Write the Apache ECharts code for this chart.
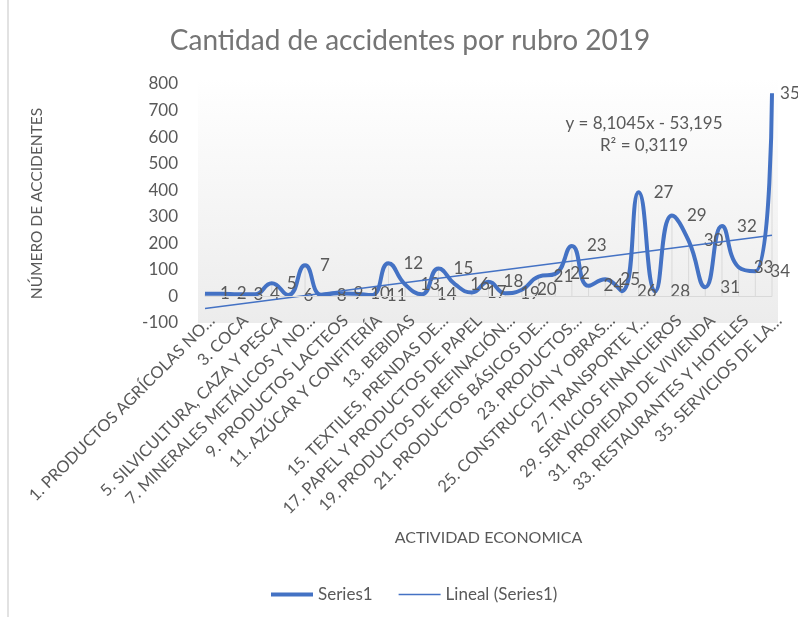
<!DOCTYPE html>
<html>
<head>
<meta charset="utf-8">
<script src="https://cdn.jsdelivr.net/npm/echarts@6/dist/echarts.min.js"></script>
<style>
  html, body { margin: 0; padding: 0; background: #fff; }
  #chart { width: 798px; height: 617px; }
</style>
</head>
<body>
<div id="chart"></div>
<script>
// --- datos ---
const categories = [
  '1. PRODUCTOS AGRÍCOLAS NO INDUSTRIALES', '2. PRODUCTOS AGRÍCOLAS INDUSTRIALES', '3. COCA',
  '4. PRODUCTOS PECUARIOS', '5. SILVICULTURA, CAZA Y PESCA', '6. PETRÓLEO CRUDO Y GAS NATURAL',
  '7. MINERALES METÁLICOS Y NO METÁLICOS', '8. CARNES FRESCAS Y ELABORADAS', '9. PRODUCTOS LACTEOS',
  '10. PRODUCTOS DE MOLINERÍA Y PANADERÍA', '11. AZÚCAR Y CONFITERÍA', '12. PRODUCTOS ALIMENTICIOS DIVERSOS',
  '13. BEBIDAS', '14. TABACO ELABORADO', '15. TEXTILES, PRENDAS DE VESTIR Y PRODUCTOS DEL CUERO',
  '16. MADERA Y PRODUCTOS DE MADERA', '17. PAPEL Y PRODUCTOS DE PAPEL', '18. SUBSTANCIAS Y PRODUCTOS QUÍMICOS',
  '19. PRODUCTOS DE REFINACIÓN DEL PETRÓLEO', '20. PRODUCTOS DE MINERALES NO METÁLICOS', '21. PRODUCTOS BÁSICOS DE METALES',
  '22. PRODUCTOS METÁLICOS, MAQUINARIA Y EQUIPO', '23. PRODUCTOS MANUFACTURADOS DIVERSOS', '24. ELECTRICIDAD, GAS Y AGUA',
  '25. CONSTRUCCIÓN Y OBRAS PÚBLICAS', '26. COMERCIO', '27. TRANSPORTE Y ALMACENAMIENTO',
  '28. COMUNICACIONES', '29. SERVICIOS FINANCIEROS', '30. SERVICIOS A LAS EMPRESAS',
  '31. PROPIEDAD DE VIVIENDA', '32. SERVICIOS SOCIALES, COMUNALES Y PERSONALES', '33. RESTAURANTES Y HOTELES',
  '34. SERVICIOS DOMÉSTICOS', '35. SERVICIOS DE LA ADMINISTRACIÓN PÚBLICA'
];
// etiquetas tal como aparecen (recortadas) en el eje
const tickLabels = [
  '1. PRODUCTOS AGRÍCOLAS NO…', '', '3. COCA', '', '5. SILVICULTURA, CAZA Y PESCA', '',
  '7. MINERALES METÁLICOS Y NO…', '', '9. PRODUCTOS LACTEOS', '', '11. AZÚCAR Y CONFITERÍA', '',
  '13. BEBIDAS', '', '15. TEXTILES, PRENDAS DE…', '', '17. PAPEL Y PRODUCTOS DE PAPEL', '',
  '19. PRODUCTOS DE REFINACIÓN…', '', '21. PRODUCTOS BÁSICOS DE…', '', '23. PRODUCTOS…', '',
  '25. CONSTRUCCIÓN Y OBRAS…', '', '27. TRANSPORTE Y…', '', '29. SERVICIOS FINANCIEROS', '',
  '31. PROPIEDAD DE VIVIENDA', '', '33. RESTAURANTES Y HOTELES', '', '35. SERVICIOS DE LA…'
];
const accidentes = [
  10, 10, 8, 8, 50, 5, 117, 5, 12, 10,
  5, 125, 45, 8, 105, 45, 15, 55, 12, 25,
  75, 85, 190, 40, 65, 20, 392, 20, 305, 210,
  35, 265, 110, 95, 765
];
// extremos de la línea de tendencia (x = 1 y x = 35)
const trendEnds = [-45.1, 230.5];
const yTicks = { min: -100, max: 800, step: 100 };

const FONT = 'Lato';
const GRAY = '#595959';
const BLUE = '#4472C4';

const trendData = categories.map((c, i) =>
  i === 0 ? trendEnds[0] : (i === categories.length - 1 ? trendEnds[1] : null));

// el último rótulo se acerca al punto para que quepa dentro del gráfico
const lineData = accidentes.map((v, i) =>
  i === accidentes.length - 1 ? { value: v, label: { distance: 8 } } : v);

const chart = echarts.init(document.getElementById('chart'), null, { renderer: 'canvas' });

chart.setOption({
  animation: false,
  textStyle: { fontFamily: FONT },
  title: {
    text: 'Cantidad de accidentes por rubro 2019',
    left: 405, top: 22, textAlign: 'center',
    textStyle: { fontFamily: FONT, fontSize: 28, fontWeight: 'normal', color: '#757575' }
  },
  graphic: [
    { type: 'rect', z: -10, shape: { x: 198, y: 78, width: 580, height: 245 },
      style: { fill: new echarts.graphic.LinearGradient(0, 0, 0, 1, [
        { offset: 0, color: '#ffffff' }, { offset: 1, color: '#ececec' }]) } },
    { type: 'line', shape: { x1: 8, y1: 0, x2: 8, y2: 617 }, style: { stroke: '#d9d9d9', lineWidth: 1.5 } },
    { type: 'text', x: 644, y: 124, style: { text: 'y = 8,1045x - 53,195', align: 'center', verticalAlign: 'middle',
      font: '17px ' + FONT, fill: GRAY } },
    { type: 'text', x: 644, y: 146, style: { text: 'R² = 0,3119', align: 'center', verticalAlign: 'middle',
      font: '17px ' + FONT, fill: GRAY } }
  ],
  legend: {
    data: [
      { name: 'Series1', icon: 'path://M0,0H42V4H0Z' },
      { name: 'Lineal (Series1)', icon: 'path://M0,0H42V1.5H0Z' }
    ],
    left: 266, top: 581,
    itemWidth: 42, itemHeight: 14, itemGap: 26,
    textStyle: { color: GRAY, fontSize: 17, fontFamily: FONT }
  },
  grid: { left: 205, right: 26, top: 84, bottom: 294 },
  xAxis: {
    type: 'category',
    data: categories,
    boundaryGap: false,
    axisLine: { show: false },
    axisTick: { show: false },
    axisLabel: {
      interval: 1, rotate: 45, margin: 2,
      color: GRAY, fontSize: 16.5, fontFamily: FONT,
      padding: [0, -10, 0, 0],
      formatter: (v, i) => tickLabels[i]
    },
    name: 'ACTIVIDAD ECONOMICA',
    nameLocation: 'middle', nameGap: 207,
    nameTextStyle: { color: GRAY, fontSize: 16, fontFamily: FONT }
  },
  yAxis: {
    type: 'value',
    min: yTicks.min, max: yTicks.max, interval: yTicks.step,
    axisLine: { show: false },
    axisTick: { show: false },
    splitLine: { show: false },
    axisLabel: { color: GRAY, fontSize: 17, margin: 27, fontFamily: FONT },
    name: 'NÚMERO DE ACCIDENTES',
    nameLocation: 'middle', nameRotate: 90, nameGap: 160,
    nameTextStyle: { color: GRAY, fontSize: 15.5, fontFamily: FONT }
  },
  series: [
    {
      name: 'drop',
      type: 'bar',
      data: accidentes,
      barWidth: 1,
      silent: true,
      z: 1,
      itemStyle: { color: '#d9d9d9' },
      markLine: {
        silent: true, symbol: 'none', label: { show: false },
        lineStyle: { color: '#d9d9d9', type: 'solid', width: 1 },
        data: [{ yAxis: 0 }]
      }
    },
    {
      name: 'Series1',
      type: 'line',
      data: lineData,
      smooth: 0.5,
      symbol: 'circle', symbolSize: 0.1, showSymbol: true,
      itemStyle: { color: BLUE },
      lineStyle: { color: BLUE, width: 4 },
      z: 3,
      label: {
        show: true, position: 'right', distance: 15,
        color: GRAY, fontSize: 17, fontFamily: FONT,
        formatter: (p) => String(p.dataIndex + 1)
      },
      labelLayout: { hideOverlap: false }
    },
    {
      name: 'Lineal (Series1)',
      type: 'line',
      data: trendData,
      connectNulls: true,
      symbol: 'none',
      itemStyle: { color: BLUE },
      lineStyle: { color: BLUE, width: 1.5 },
      z: 4
    }
  ]
});
</script>
</body>
</html>
